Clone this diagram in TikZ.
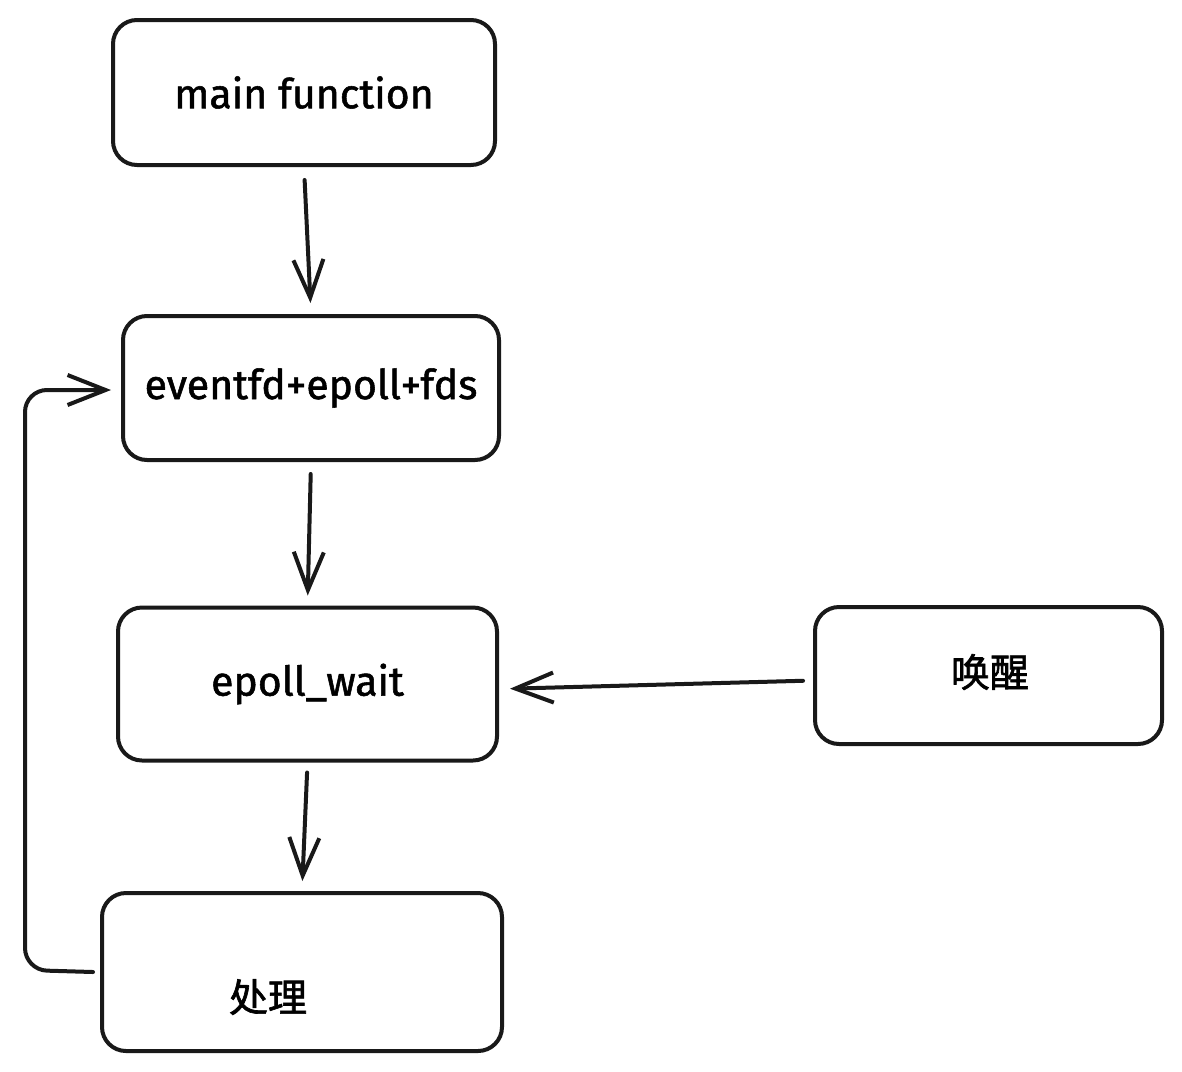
\documentclass[tikz,border=0pt]{standalone}
\usepackage{fontspec}
\setmainfont{Fira Sans}[FakeBold=1.3]
\newfontfamily\cjk{Noto Sans CJK SC}[FakeBold=1.6]
\usetikzlibrary{arrows.meta}
\begin{document}
\begin{tikzpicture}[x=1pt,y=-1pt,
  box/.style={draw=black!90, line width=4pt, rounded corners=24pt, inner sep=0pt, font=\fontsize{41}{44}\selectfont},
  arr/.style={draw=black!90, line width=4pt, line cap=round, line join=round, -{Straight Barb[length=38pt,width=30pt,line width=4pt]}},
  lbl/.style={font=\fontsize{39}{42}\selectfont, inner sep=0pt}]
\useasboundingbox[fill=white] (0,0) rectangle (1182,1071);
\node[box, minimum width=382pt, minimum height=145pt] (box1) at (304,92.5) {main function};
\node[box, minimum width=376pt, minimum height=144pt] (box2) at (311,388) {eventfd+epoll+fds};
\node[box, minimum width=379pt, minimum height=153pt] (box3) at (307.5,684) {epoll\_wait};
\node[box, minimum width=347pt, minimum height=137pt] (box4) at (988.5,675.5) {};
\node[lbl] (t4) at (990,672) {\cjk 唤醒};
\node[box, minimum width=400pt, minimum height=158pt] (box5) at (302,972) {};
\node[lbl] (t5) at (268,997) {\cjk 处理};
\draw[arr, shorten <=13pt, shorten >=11pt] (box1.south) -- (box2.north);
\draw[arr, shorten <=12pt, shorten >=10pt] (box2.south) -- (box3.north);
\draw[arr, shorten <=10pt, shorten >=10pt] (box3.south) -- (box5.north);
\draw[arr, shorten <=10pt, shorten >=11pt] ([yshift=-5pt]box4.west) -- ([yshift=-5pt]box3.east);
\coordinate (c1) at (25,970);
\coordinate (c2) at (25,390);
\draw[arr, rounded corners=22pt] ([xshift=-7pt]box5.west) -- (c1) -- (c2) -- ([xshift=-10pt]box2.west |- c2);
\end{tikzpicture}
\end{document}
